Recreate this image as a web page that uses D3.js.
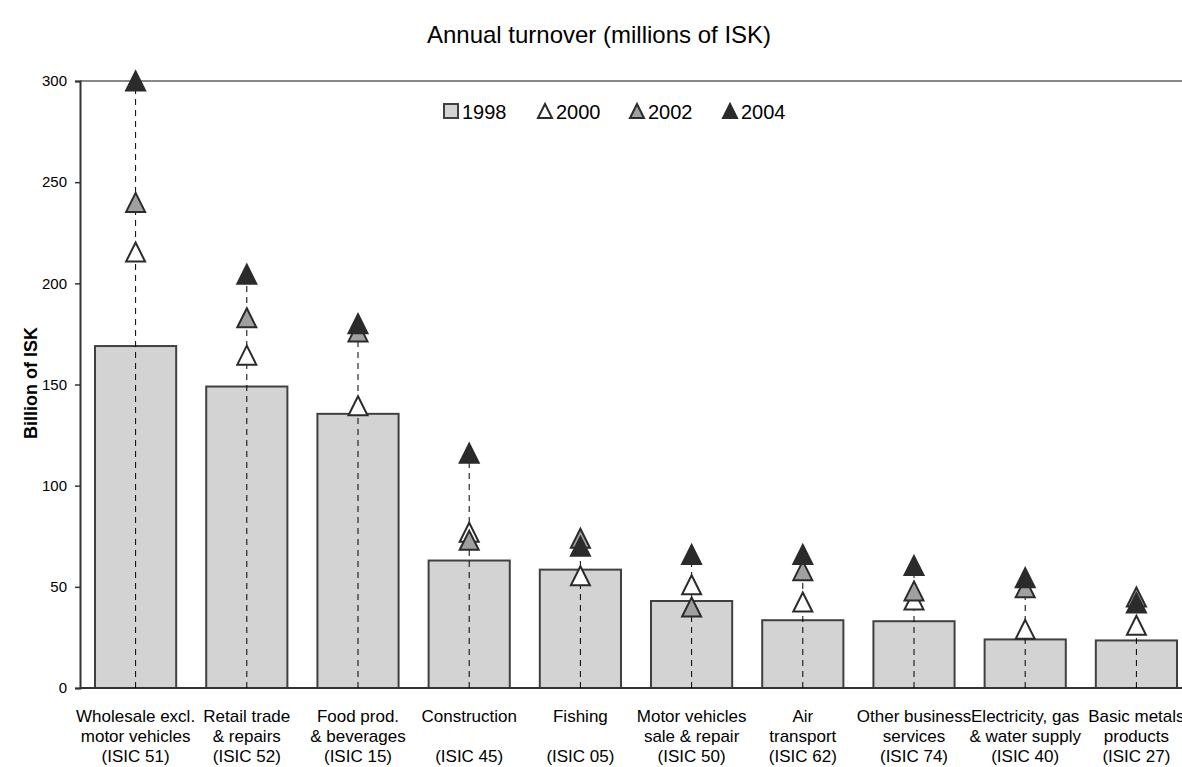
<!DOCTYPE html>
<html>
<head>
<meta charset="utf-8">
<script src="https://cdn.jsdelivr.net/npm/d3@7"></script>
<style>
  body { margin: 0; background: #fff; }
  svg { display: block; font-family: Arial, "Liberation Sans", sans-serif; }
</style>
</head>
<body>
<div id="canvas"></div>
<script>
// data (billion ISK)
var categories = ['ISIC 51','ISIC 52','ISIC 15','ISIC 45','ISIC 05','ISIC 50','ISIC 62','ISIC 74','ISIC 40','ISIC 27'];
var labelLines = [
  ['Wholesale excl.','motor vehicles','(ISIC 51)'],
  ['Retail trade','& repairs','(ISIC 52)'],
  ['Food prod.','& beverages','(ISIC 15)'],
  ['Construction','','(ISIC 45)'],
  ['Fishing','','(ISIC 05)'],
  ['Motor vehicles','sale & repair','(ISIC 50)'],
  ['Air','transport','(ISIC 62)'],
  ['Other business','services','(ISIC 74)'],
  ['Electricity, gas','& water supply','(ISIC 40)'],
  ['Basic metals','products','(ISIC 27)']
];
var v1998 = [169, 149, 135.5, 63, 58.5, 43, 33.5, 33, 24, 23.5];
var v2000 = [215.5, 164.5, 139.5, 77, 55.5, 51, 42.5, 43.5, 29, 31];
var v2002 = [240, 183, 176, 73, 74, 40, 58, 48, 49.5, 45];
var v2004 = [300, 204.5, 180, 116, 70, 66, 66, 60.5, 54.5, 42];
var yTicks = [0, 50, 100, 150, 200, 250, 300];
var years = ['1998','2000','2002','2004'];

var W = 1182, H = 767;
var m = {t:81, r:-10, b:79, l:80};

var svg = d3.select('#canvas').append('svg')
    .attr('width', W)
    .attr('height', H);

var scaleY = d3.scaleLinear().domain([0,300]).range([H - m.b, m.t]);
var scaleX = d3.scaleBand().domain(categories)
    .range([m.l, W - m.r])
    .paddingInner(0.27)
    .paddingOuter(0.135);

// title
svg.append('text')
    .attr('x', 599).attr('y', 43)
    .attr('text-anchor','middle')
    .style('font-size','24px')
    .text('Annual turnover (millions of ISK)');

// y label
svg.append('text')
    .attr('transform','translate(37,' + 383 + ') rotate(-90)')
    .attr('text-anchor','middle')
    .style('font-size','18px')
    .style('font-weight','bold')
    .text('Billion of ISK');

// top frame line
svg.append('line')
    .attr('x1', m.l).attr('x2', W)
    .attr('y1', scaleY(300)).attr('y2', scaleY(300))
    .attr('stroke','#888').attr('stroke-width',2);

// y axis
var axisY = d3.axisLeft(scaleY).tickValues(yTicks).tickSize(5).tickPadding(8);
var gY = svg.append('g')
    .attr('transform','translate(' + m.l + ',0)')
    .call(axisY);
gY.select('.domain').attr('stroke','#333').attr('stroke-width',2);
gY.selectAll('.tick line').attr('stroke','#333').attr('stroke-width',1.5);
gY.selectAll('.tick text').style('font-size','15px').style('font-family','Arial, "Liberation Sans", sans-serif').attr('fill','#000');

// bars
svg.selectAll('rect.bar')
    .data(v1998)
    .enter().append('rect')
    .attr('class','bar')
    .attr('x', function(d,i){ return scaleX(categories[i]); })
    .attr('y', function(d){ return scaleY(d); })
    .attr('width', scaleX.bandwidth())
    .attr('height', function(d){ return scaleY(0) - scaleY(d); })
    .attr('fill','#d3d3d3')
    .attr('stroke','#404040')
    .attr('stroke-width',2);

// bottom axis line
svg.append('line')
    .attr('x1', m.l).attr('x2', W)
    .attr('y1', scaleY(0)).attr('y2', scaleY(0))
    .attr('stroke','#333').attr('stroke-width',2);

// dashed drop lines
svg.selectAll('line.drop')
    .data(categories)
    .enter().append('line')
    .attr('class','drop')
    .attr('x1', function(d){ return scaleX(d) + scaleX.bandwidth()/2; })
    .attr('x2', function(d){ return scaleX(d) + scaleX.bandwidth()/2; })
    .attr('y1', scaleY(0))
    .attr('y2', function(d,i){ return scaleY(Math.max(v2000[i], v2002[i], v2004[i])); })
    .attr('stroke','#000')
    .attr('stroke-width',1)
    .attr('stroke-dasharray','6,5');

// triangle markers
var tri = 'M0,-9.5L9.5,9.5L-9.5,9.5Z';
var series = [
  {vals: v2000, fill: '#ffffff'},
  {vals: v2002, fill: '#a0a0a0'},
  {vals: v2004, fill: '#2b2b2b'}
];
series.forEach(function(s){
  svg.append('g').selectAll('path')
    .data(s.vals)
    .enter().append('path')
    .attr('d', tri)
    .attr('transform', function(d,i){
      return 'translate(' + (scaleX(categories[i]) + scaleX.bandwidth()/2) + ',' + scaleY(d) + ')';
    })
    .attr('fill', s.fill)
    .attr('stroke','#2b2b2b')
    .attr('stroke-width',2)
    .attr('stroke-linejoin','miter');
});

// category labels
var lab = svg.append('g');
labelLines.forEach(function(lines,i){
  var t = lab.append('text')
    .attr('text-anchor','middle')
    .style('font-size','17px');
  lines.forEach(function(l,j){
    t.append('tspan')
      .attr('x', scaleX(categories[i]) + scaleX.bandwidth()/2)
      .attr('y', 722 + j*20)
      .text(l);
  });
});

// legend
var legX = [443, 537, 629, 722];
var leg = svg.append('g');
years.forEach(function(y,i){
  var g = leg.append('g').attr('transform','translate(' + legX[i] + ',0)');
  if (i === 0) {
    g.append('rect').attr('x',1).attr('y',104).attr('width',14).attr('height',14)
      .attr('fill','#d3d3d3').attr('stroke','#404040').attr('stroke-width',2);
  } else {
    g.append('path').attr('d','M8,-7L15,7L1,7Z')
      .attr('transform','translate(0,111)')
      .attr('fill', series[i-1].fill)
      .attr('stroke','#2b2b2b').attr('stroke-width',2);
  }
  g.append('text').attr('x',19).attr('y',119)
    .style('font-size','20px')
    .text(y);
});
</script>
</body>
</html>
